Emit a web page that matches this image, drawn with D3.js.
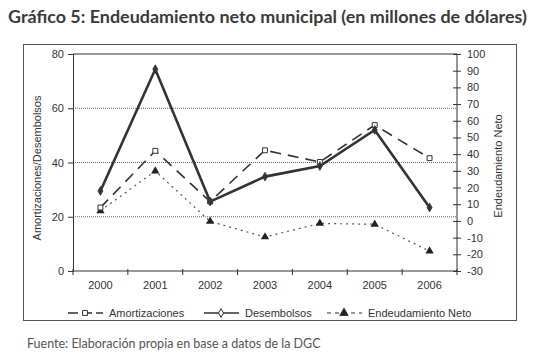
<!DOCTYPE html>
<html>
<head>
<meta charset="utf-8">
<script src="https://cdn.jsdelivr.net/npm/d3@7"></script>
<style>
  body { margin: 0; background: #fff; }
  svg text { font-family: "Liberation Sans", Arial, sans-serif; fill: #333; }
</style>
</head>
<body>
<div id="chart"></div>
<script>
// data
const years = ["2000", "2001", "2002", "2003", "2004", "2005", "2006"];
const amortizaciones = [23.4, 44.3, 25.6, 44.5, 40.2, 53.8, 41.6];
const desembolsos = [29.5, 74.4, 25.6, 34.8, 38.7, 52.0, 23.4];
const endeudamientoNeto = [6.1, 29.9, -0.3, -9.6, -1.5, -2.0, -18.1];
const leftTicks = [0, 20, 40, 60, 80];
const rightTicks = [-30, -20, -10, 0, 10, 20, 30, 40, 50, 60, 70, 80, 90, 100];

const W = 537, H = 357;
const margin = {top: 54, left: 73, right: 80, bottom: 86};
const pw = W - margin.left - margin.right;
const ph = H - margin.top - margin.bottom;
const ink = "#333";
const sans = "'Liberation Sans', Arial, sans-serif";

const svg = d3.select("#chart").append("svg")
    .attr("width", W)
    .attr("height", H);

// title
svg.append("text")
    .attr("x", 8).attr("y", 23)
    .style("font-family", "Lato, 'DejaVu Sans', sans-serif")
    .style("font-weight", "bold")
    .style("font-size", "16.5px")
    .attr("textLength", 519)
    .attr("lengthAdjust", "spacingAndGlyphs")
    .style("fill", "#3a3a3a")
    .text("Gráfico 5: Endeudamiento neto municipal (en millones de dólares)");

// outer frame
svg.append("rect")
    .attr("x", 23.5).attr("y", 44.5)
    .attr("width", 493).attr("height", 276)
    .attr("fill", "none")
    .attr("stroke", "#555")
    .attr("stroke-width", 1);

const g = svg.append("g")
    .attr("transform", `translate(${margin.left},${margin.top})`);

const x = d3.scaleBand().domain(years).range([0, pw]);
const yL = d3.scaleLinear().domain([0, 80]).range([ph, 0]);
const yR = d3.scaleLinear().domain([-30, 100]).range([ph, 0]);
const cx = d => x(d) + x.bandwidth() / 2;

// gridlines
g.selectAll(".grid")
    .data(leftTicks.filter(d => d > 0 && d < 80))
    .enter().append("line")
    .attr("x1", 0).attr("x2", pw)
    .attr("y1", d => yL(d)).attr("y2", d => yL(d))
    .attr("stroke", "#666")
    .attr("stroke-width", 1)
    .attr("stroke-dasharray", "1,1");

// top frame line
g.append("line")
    .attr("x1", 0).attr("x2", pw)
    .attr("y1", 0).attr("y2", 0)
    .attr("stroke", ink).attr("stroke-width", 1.2);

// left axis
const axL = g.append("g")
    .call(d3.axisLeft(yL).tickValues(leftTicks).tickSize(5).tickPadding(4));
axL.attr("font-family", sans);
axL.selectAll("text").style("font-size", "11px").style("fill", ink);
axL.selectAll("line, path").attr("stroke", ink);

// right axis (ticks across the line)
const axR = g.append("g")
    .attr("transform", `translate(${pw},0)`)
    .call(d3.axisRight(yR).tickValues(rightTicks).tickSize(4).tickPadding(6).tickFormat(d => String(d)));
axR.attr("font-family", sans);
axR.selectAll(".tick line").attr("x1", -4);
axR.selectAll("text").style("font-size", "11px").style("fill", ink);
axR.selectAll("line, path").attr("stroke", ink);
axR.select(".domain").attr("d", `M0,0V${ph}`);

// bottom axis
const axB = g.append("g")
    .attr("transform", `translate(0,${ph})`)
    .call(d3.axisBottom(x).tickSize(0).tickPadding(10));
axB.attr("font-family", sans);
axB.selectAll("text").style("font-size", "11px").style("fill", ink);
axB.select(".domain").attr("stroke", ink).attr("d", `M0,0H${pw}`);
g.selectAll(".xb")
    .data(d3.range(years.length + 1))
    .enter().append("line")
    .attr("x1", i => i * x.bandwidth()).attr("x2", i => i * x.bandwidth())
    .attr("y1", ph - 2).attr("y2", ph + 4)
    .attr("stroke", ink);

// axis titles
svg.append("text")
    .attr("transform", "translate(41,168) rotate(-90)")
    .attr("text-anchor", "middle")
    .style("font-family", sans)
    .style("font-size", "11px")
    .text("Amortizaciones/Desembolsos");
svg.append("text")
    .attr("transform", "translate(502,166) rotate(-90)")
    .attr("text-anchor", "middle")
    .style("font-family", sans)
    .style("font-size", "11px")
    .text("Endeudamiento Neto");

// series
const lineL = d3.line().x((d, i) => cx(years[i])).y(d => yL(d));
const lineR = d3.line().x((d, i) => cx(years[i])).y(d => yR(d));

g.append("path").datum(endeudamientoNeto)
    .attr("d", lineR).attr("fill", "none")
    .attr("stroke", "#555").attr("stroke-width", 1.2)
    .attr("stroke-dasharray", "2,4");

g.append("path").datum(amortizaciones)
    .attr("d", lineL).attr("fill", "none")
    .attr("stroke", ink).attr("stroke-width", 1.6)
    .attr("stroke-dasharray", "11,7");

g.append("path").datum(desembolsos)
    .attr("d", lineL).attr("fill", "none")
    .attr("stroke", ink).attr("stroke-width", 2.6);

const tri = d3.symbol().type(d3.symbolTriangle).size(30);
const sq = d3.symbol().type(d3.symbolSquare).size(24);
const dia = d3.symbol().type(d3.symbolDiamond).size(22);

g.selectAll(".neto").data(endeudamientoNeto).enter().append("path")
    .attr("d", tri)
    .attr("transform", (d, i) => `translate(${cx(years[i])},${yR(d)})`)
    .attr("fill", "#222");

g.selectAll(".amort").data(amortizaciones).enter().append("path")
    .attr("d", sq)
    .attr("transform", (d, i) => `translate(${cx(years[i])},${yL(d)})`)
    .attr("fill", "#fff").attr("stroke", ink).attr("stroke-width", 1);

g.selectAll(".desem").data(desembolsos).enter().append("path")
    .attr("d", dia)
    .attr("transform", (d, i) => `translate(${cx(years[i])},${yL(d)})`)
    .attr("fill", ink).attr("stroke", ink).attr("stroke-width", 0.8);

// legend
const legendY = 313;
const legend = [
    {name: "Amortizaciones", x0: 68, dash: "10,4", w: 1.4, sym: sq, fill: "#fff"},
    {name: "Desembolsos", x0: 204, dash: null, w: 1.4, sym: dia, fill: "#fff"},
    {name: "Endeudamiento Neto", x0: 327, dash: "4,4", w: 1.2, sym: tri, fill: "#222"}
];
const lg = svg.selectAll(".lg").data(legend).enter().append("g");
lg.append("line")
    .attr("x1", d => d.x0).attr("x2", d => d.x0 + 35)
    .attr("y1", legendY).attr("y2", legendY)
    .attr("stroke", ink).attr("stroke-width", d => d.w)
    .attr("stroke-dasharray", d => d.dash);
lg.append("path")
    .attr("d", d => d.sym())
    .attr("transform", d => `translate(${d.x0 + 17},${legendY})`)
    .attr("fill", d => d.fill).attr("stroke", ink).attr("stroke-width", 1);
lg.append("text")
    .attr("x", d => d.x0 + 41).attr("y", legendY + 4)
    .style("font-family", sans)
    .style("font-size", "11px")
    .text(d => d.name);

// source
svg.append("text")
    .attr("x", 27).attr("y", 348)
    .style("font-family", "Lato, 'DejaVu Sans', sans-serif")
    .style("font-size", "12.5px")
    .style("fill", "#555")
    .text("Fuente: Elaboración propia en base a datos de la DGC");
</script>
</body>
</html>
